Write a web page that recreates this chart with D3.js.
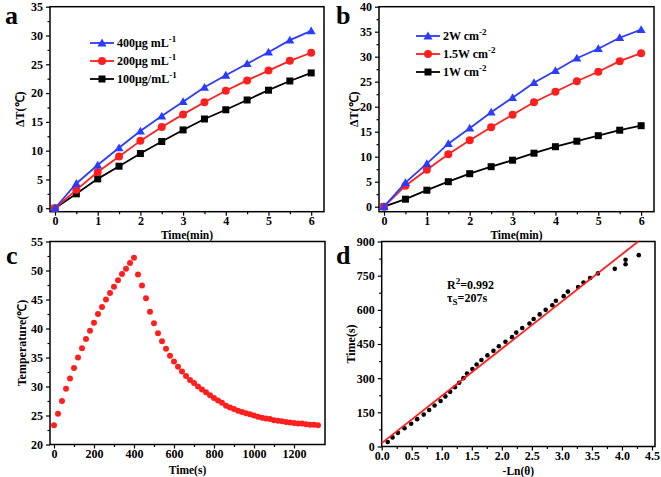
<!DOCTYPE html>
<html><head><meta charset="utf-8">
<script src="https://cdn.jsdelivr.net/npm/d3@7"></script>
<style>body{margin:0;background:#fff}svg{display:block}</style>
</head><body>
<svg id="chart" width="661" height="477"></svg>
<script>
// ---------- DATA ----------
const timeMin = [0,0.5,1,1.5,2,2.5,3,3.5,4,4.5,5,5.5,6];
const conc400 = [0,4.3,7.5,10.5,13.4,16.0,18.5,21.0,23.1,25.1,27.1,29.2,30.8];
const conc200 = [0,3.2,6.3,9.0,11.7,14.1,16.3,18.4,20.4,22.2,23.9,25.6,27.0];
const conc100 = [0,2.5,5.1,7.3,9.5,11.6,13.6,15.5,17.1,18.8,20.5,22.1,23.5];
const concLabels = ["400μg mL", "200μg mL", "100μg/mL"];
const concSup = ["-1","-1","-1"];

const power2 = [0,4.8,8.6,12.6,15.7,18.9,21.8,24.8,27.2,29.7,31.6,33.8,35.4];
const power15 = [0,4.2,7.4,10.5,13.3,15.9,18.4,20.9,23.0,25.1,27.0,29.1,30.7];
const power1 = [0,1.5,3.3,5.0,6.6,8.0,9.3,10.7,12.0,13.1,14.2,15.3,16.2];
const powerLabels = ["2W cm", "1.5W cm", "1W cm"];
const powerSup = ["-2","-2","-2"];

const cycleTime = [0,20,40,60,80,100,120,140,160,180,200,220,240,260,280,300,320,340,360,380,400,
  420,440,460,480,500,520,540,560,580,600,620,640,660,680,700,720,740,760,780,800,820,840,860,880,900,
  920,940,960,980,1000,1020,1040,1060,1080,1100,1120,1140,1160,1180,1200,1220,1240,1260,1280,1300,1320];
const cycleTemp = [23.3,25.3,27.5,29.6,31.4,33.2,35.0,36.6,38.2,39.6,41.0,42.5,43.7,45.0,46.1,47.2,48.3,49.4,50.3,51.3,52.2,
  49.3,47.4,45.2,42.9,40.9,39.2,37.8,36.5,35.3,34.3,33.4,32.6,31.8,31.1,30.6,30.0,29.5,29.0,28.5,28.0,27.6,27.2,26.7,26.4,26.1,
  25.8,25.6,25.4,25.2,25.0,24.8,24.6,24.5,24.4,24.2,24.1,24.0,23.9,23.8,23.7,23.6,23.6,23.5,23.4,23.4,23.3];

const lnTheta = [0.10,0.18,0.27,0.38,0.49,0.59,0.70,0.79,0.88,0.98,1.06,1.14,1.22,1.29,1.36,1.42,1.51,1.58,1.66,1.76,
  1.86,1.95,2.06,2.17,2.24,2.34,2.46,2.53,2.63,2.73,2.84,2.90,3.03,3.10,3.27,3.36,3.47,3.60,3.88,4.06,4.06,4.28];
const coolTime = [20,40,60,80,100,120,140,160,180,200,220,240,260,280,300,320,340,360,380,400,
  420,440,460,480,500,520,540,560,580,600,620,640,660,680,700,720,740,760,780,800,820,840];
const fitX = [0, 4.27];
const fitY = [15, 900];

const ticksA_y = [0,5,10,15,20,25,30,35];
const ticksB_y = [0,5,10,15,20,25,30,35,40];
const ticksAB_x = [0,1,2,3,4,5,6];
const ticksC_y = [20,25,30,35,40,45,50,55];
const ticksC_x = [0,200,400,600,800,1000,1200];
const ticksD_y = [0,150,300,450,600,750,900];
const ticksD_x = [0,0.5,1,1.5,2,2.5,3,3.5,4,4.5];

// ---------- DRAW ----------
const svg = d3.select("#chart");
const FONT = "'Liberation Serif','Times New Roman',serif";
const BLUE = "#2a3cff", RED = "#ff1f1f";

function panel(o) {
  const g = svg.append("g");
  const x = d3.scaleLinear().domain(o.xDomain).range([o.left, o.right]);
  const y = d3.scaleLinear().domain(o.yDomain).range([o.bottom, o.top]);

  const styleAxis = sel => {
    sel.select(".domain").remove();
    sel.selectAll("line").attr("stroke", "#000").attr("stroke-width", 1.2);
    sel.selectAll("text").attr("font-family", FONT).attr("font-weight", "bold")
      .attr("font-size", 12).attr("fill", "#000");
  };
  g.append("g").attr("transform", `translate(0,${o.bottom})`)
    .call(d3.axisBottom(x).tickValues(o.xMinor).tickSize(2.5).tickFormat("")).call(styleAxis);
  g.append("g").attr("transform", `translate(${o.left},0)`)
    .call(d3.axisLeft(y).tickValues(o.yMinor).tickSize(2.5).tickFormat("")).call(styleAxis);
  g.append("g").attr("transform", `translate(0,${o.bottom})`)
    .call(d3.axisBottom(x).tickValues(o.xTicks).tickSize(4).tickPadding(1).tickFormat(o.xFmt)).call(styleAxis);
  g.append("g").attr("transform", `translate(${o.left},0)`)
    .call(d3.axisLeft(y).tickValues(o.yTicks).tickSize(4).tickPadding(3).tickFormat(o.yFmt)).call(styleAxis);

  g.append("rect").attr("x", o.left).attr("y", o.top)
    .attr("width", o.right - o.left).attr("height", o.bottom - o.top)
    .attr("fill", "none").attr("stroke", "#000").attr("stroke-width", 1.5);

  // titles
  g.append("text").attr("x", (o.left + o.right) / 2).attr("y", o.bottom + o.xTitleDy)
    .attr("text-anchor", "middle").attr("font-family", FONT).attr("font-weight", "bold")
    .attr("font-size", 11.5).text(o.xTitle);
  g.append("text").attr("transform", `translate(${o.yTitleX},${(o.top + o.bottom) / 2}) rotate(-90)`)
    .attr("text-anchor", "middle").attr("font-family", FONT).attr("font-weight", "bold")
    .attr("font-size", 12).text(o.yTitle);
  g.append("text").attr("x", o.letterX).attr("y", o.letterY)
    .attr("font-family", FONT).attr("font-weight", "bold").attr("font-size", 26).text(o.letter);
  return { g, x, y };
}

function marker(g, type, cx, cy, color, s) {
  if (type === "tri") {
    g.append("path").attr("d", d3.symbol(d3.symbolTriangle, s * s * 0.55)())
      .attr("transform", `translate(${cx},${cy + 0.8})`).attr("fill", color);
  } else if (type === "circle") {
    g.append("circle").attr("cx", cx).attr("cy", cy).attr("r", s / 2).attr("fill", color);
  } else {
    g.append("rect").attr("x", cx - s / 2 + 0.5).attr("y", cy - s / 2 + 0.5)
      .attr("width", s - 1).attr("height", s - 1).attr("fill", color);
  }
}

function lineSeries(p, xs, ys, color, type) {
  const line = d3.line().x((d, i) => p.x(xs[i])).y(d => p.y(d));
  p.g.append("path").datum(ys).attr("d", line).attr("fill", "none")
    .attr("stroke", color).attr("stroke-width", 1.8);
  ys.forEach((v, i) => marker(p.g, type, p.x(xs[i]), p.y(v), color, 8));
}

function legend(g, items, lx, ly, dy) {
  items.forEach((it, i) => {
    const yy = ly + i * dy;
    g.append("line").attr("x1", lx).attr("x2", lx + 24).attr("y1", yy).attr("y2", yy)
      .attr("stroke", it.color).attr("stroke-width", 1.8);
    marker(g, it.type, lx + 12, yy, it.color, 8);
    const t = g.append("text").attr("x", lx + 27).attr("y", yy + 4)
      .attr("font-family", FONT).attr("font-weight", "bold").attr("font-size", 12);
    t.append("tspan").text(it.label);
    t.append("tspan").attr("dy", -5).attr("font-size", 9).text(it.sup);
  });
}

// Panel a
const pa = panel({ left: 50, right: 324, top: 6.7, bottom: 211.7,
  xDomain: [-0.117, 6.3], yDomain: [-0.6, 35],
  xTicks: ticksAB_x, xMinor: d3.range(0.5, 6, 1), xFmt: d3.format("d"),
  yTicks: ticksA_y, yMinor: d3.range(2.5, 35, 5), yFmt: d3.format("d"),
  xTitle: "Time(min)", xTitleDy: 27.5, yTitle: "ΔT(℃)", yTitleX: 24, letter: "a", letterX: 5, letterY: 24 });
lineSeries(pa, timeMin, conc100, "#000", "square");
lineSeries(pa, timeMin, conc200, RED, "circle");
lineSeries(pa, timeMin, conc400, BLUE, "tri");
legend(pa.g, [
  { label: concLabels[0], sup: concSup[0], color: BLUE, type: "tri" },
  { label: concLabels[1], sup: concSup[1], color: RED, type: "circle" },
  { label: concLabels[2], sup: concSup[2], color: "#000", type: "square" }], 90, 43, 18);

// Panel b
const pb = panel({ left: 379, right: 654, top: 6.7, bottom: 211.7,
  xDomain: [-0.117, 6.3], yDomain: [-1, 40],
  xTicks: ticksAB_x, xMinor: d3.range(0.5, 6, 1), xFmt: d3.format("d"),
  yTicks: ticksB_y, yMinor: d3.range(2.5, 40, 5), yFmt: d3.format("d"),
  xTitle: "Time(min)", xTitleDy: 27.5, yTitle: "ΔT(℃)", yTitleX: 358, letter: "b", letterX: 336, letterY: 24 });
lineSeries(pb, timeMin, power1, "#000", "square");
lineSeries(pb, timeMin, power15, RED, "circle");
lineSeries(pb, timeMin, power2, BLUE, "tri");
legend(pb.g, [
  { label: powerLabels[0], sup: powerSup[0], color: BLUE, type: "tri" },
  { label: powerLabels[1], sup: powerSup[1], color: RED, type: "circle" },
  { label: powerLabels[2], sup: powerSup[2], color: "#000", type: "square" }], 416, 36, 18);

// Panel c
const pc = panel({ left: 50, right: 325, top: 241.5, bottom: 444.5,
  xDomain: [-20, 1355], yDomain: [20, 55],
  xTicks: ticksC_x, xMinor: d3.range(100, 1300, 200), xFmt: d3.format("d"),
  yTicks: ticksC_y, yMinor: d3.range(22.5, 55, 5), yFmt: d3.format("d"),
  xTitle: "Time(s)", xTitleDy: 29, yTitle: "Temperature(℃)", yTitleX: 26, letter: "c", letterX: 6, letterY: 264 });
cycleTemp.forEach((v, i) => pc.g.append("circle").attr("cx", pc.x(cycleTime[i])).attr("cy", pc.y(v))
  .attr("r", 3).attr("fill", RED));

// Panel d
const pd = panel({ left: 381.7, right: 655, top: 241.5, bottom: 446.5,
  xDomain: [0, 4.55], yDomain: [0, 900],
  xTicks: ticksD_x, xMinor: d3.range(0.25, 4.5, 0.5), xFmt: d3.format(".1f"),
  yTicks: ticksD_y, yMinor: d3.range(75, 900, 150), yFmt: d3.format("d"),
  xTitle: "-Ln(θ)", xTitleDy: 28, yTitle: "Time(s)", yTitleX: 355, letter: "d", letterX: 336, letterY: 264 });
coolTime.forEach((v, i) => pd.g.append("circle").attr("cx", pd.x(lnTheta[i])).attr("cy", pd.y(v))
  .attr("r", 2.3).attr("fill", "#000"));
pd.g.append("path").datum(fitY).attr("d", d3.line().x((d, i) => pd.x(fitX[i])).y(d => pd.y(d)))
  .attr("stroke", RED).attr("stroke-width", 1.8).attr("fill", "none");
const t1 = pd.g.append("text").attr("x", 447).attr("y", 289).attr("font-family", FONT)
  .attr("font-weight", "bold").attr("font-size", 12);
t1.append("tspan").text("R");
t1.append("tspan").attr("dy", -5).attr("font-size", 9).text("2");
t1.append("tspan").attr("dy", 5).text("=0.992");
const t2 = pd.g.append("text").attr("x", 447).attr("y", 302).attr("font-family", FONT)
  .attr("font-weight", "bold").attr("font-size", 12);
t2.append("tspan").text("τ");
t2.append("tspan").attr("dy", 3).attr("font-size", 9).text("S");
t2.append("tspan").attr("dy", -3).text("=207s");
</script>
</body></html>
